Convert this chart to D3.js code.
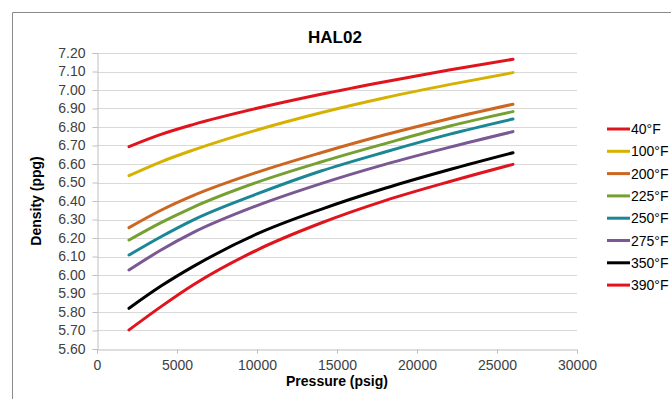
<!DOCTYPE html>
<html>
<head>
<meta charset="utf-8">
<script src="https://cdn.jsdelivr.net/npm/d3@7"></script>
<style>
  html, body { margin: 0; padding: 0; background: #fff; }
  svg { display: block; font-family: "Liberation Sans", Arial, sans-serif; }
</style>
</head>
<body>
<svg id="chart" width="671" height="399"></svg>
<script>
// Pressure readings (psig) shared by every temperature series
const pressures = [2000, 4000, 6000, 10000, 14000, 18000, 22000, 26000];

// Density (ppg) per temperature
const seriesNames = ["40°F", "100°F", "200°F", "225°F", "250°F", "275°F", "350°F", "390°F"];
const d40  = [6.694, 6.760, 6.813, 6.901, 6.977, 7.045, 7.108, 7.166];
const d100 = [6.537, 6.612, 6.675, 6.784, 6.877, 6.958, 7.029, 7.094];
const d200 = [6.256, 6.350, 6.429, 6.555, 6.661, 6.758, 6.845, 6.923];
const d225 = [6.189, 6.283, 6.366, 6.501, 6.611, 6.710, 6.804, 6.883];
const d250 = [6.108, 6.207, 6.297, 6.438, 6.562, 6.665, 6.760, 6.843];
const d275 = [6.027, 6.135, 6.229, 6.375, 6.494, 6.598, 6.690, 6.775];
const d350 = [5.820, 5.940, 6.045, 6.222, 6.355, 6.469, 6.569, 6.661];
const d390 = [5.703, 5.829, 5.946, 6.135, 6.281, 6.402, 6.504, 6.598];
const seriesValues = [d40, d100, d200, d225, d250, d275, d350, d390];
const seriesColors = ["#e0141c", "#d6b100", "#cc6620", "#76a032", "#1b8796", "#7a5893", "#000000", "#e0141c"];

// Axis ticks
const xTicks = [0, 5000, 10000, 15000, 20000, 25000, 30000];
const yTicks = d3.range(5.6, 7.2001, 0.1).map(v => +v.toFixed(2));

const svg = d3.select("#chart");

// Chart frame
svg.append("path")
  .attr("d", "M12.5,399 L12.5,12.5 L671,12.5")
  .attr("fill", "none")
  .attr("stroke", "#8a8a8a")
  .attr("stroke-width", 1);

const plot = { left: 97, right: 577, top: 53, bottom: 349 };

const x = d3.scaleLinear().domain([0, 30000]).range([plot.left, plot.right]);
const y = d3.scaleLinear().domain([5.6, 7.2]).range([plot.bottom, plot.top]);

// Horizontal gridlines
svg.append("g")
  .selectAll("line")
  .data(yTicks.slice(1))
  .join("line")
  .attr("x1", plot.left).attr("x2", plot.right)
  .attr("y1", d => Math.round(y(d)) + 0.5).attr("y2", d => Math.round(y(d)) + 0.5)
  .attr("stroke", "#d9d9d9").attr("stroke-width", 1);

// Y axis
const yAxis = svg.append("g")
  .attr("transform", `translate(${plot.left + 0.5},0)`)
  .call(d3.axisLeft(y).tickValues(yTicks).tickFormat(d3.format(".2f")).tickSize(5).tickPadding(7));
yAxis.select(".domain").attr("stroke", "#bfbfbf");
yAxis.selectAll(".tick line").attr("stroke", "#bfbfbf");
yAxis.selectAll(".tick text")
  .attr("fill", "#404040")
  .attr("font-size", 14)
  .attr("font-family", "Liberation Sans, Arial, sans-serif");

// X axis
const xAxis = svg.append("g")
  .attr("transform", `translate(0,${plot.bottom + 0.5})`)
  .call(d3.axisBottom(x).tickValues(xTicks).tickFormat(d3.format("d")).tickSize(4));
xAxis.select(".domain").attr("stroke", "#bfbfbf");
xAxis.selectAll(".tick line").attr("stroke", "#bfbfbf");
xAxis.selectAll(".tick text")
  .attr("fill", "#404040")
  .attr("font-size", 14)
  .attr("font-family", "Liberation Sans, Arial, sans-serif")
  .attr("y", 20)
  .attr("dy", null);

// Density curves
const line = d3.line()
  .x(d => x(d[0]))
  .y(d => y(d[1]))
  .curve(d3.curveMonotoneX);

seriesValues.forEach((vals, i) => {
  svg.append("path")
    .datum(pressures.map((p, j) => [p, vals[j]]))
    .attr("d", line)
    .attr("fill", "none")
    .attr("stroke", seriesColors[i])
    .attr("stroke-width", 3)
    .attr("stroke-linecap", "round")
    .attr("stroke-linejoin", "round");
});

// Title and axis titles
svg.append("text")
  .attr("x", 335).attr("y", 43)
  .attr("text-anchor", "middle")
  .attr("font-size", 17).attr("font-weight", "bold")
  .attr("fill", "#000")
  .text("HAL02");

svg.append("text")
  .attr("x", (plot.left + plot.right) / 2).attr("y", 386)
  .attr("text-anchor", "middle")
  .attr("font-size", 14).attr("font-weight", "bold")
  .attr("fill", "#000")
  .text("Pressure (psig)");

svg.append("text")
  .attr("transform", `translate(41,${(plot.top + plot.bottom) / 2}) rotate(-90)`)
  .attr("text-anchor", "middle")
  .attr("font-size", 14).attr("font-weight", "bold")
  .attr("fill", "#000")
  .text("Density (ppg)");

// Legend
const legend = svg.append("g");
seriesNames.forEach((name, i) => {
  const ly = 129 + i * 22.3;
  legend.append("line")
    .attr("x1", 607).attr("x2", 630)
    .attr("y1", ly).attr("y2", ly)
    .attr("stroke", seriesColors[i]).attr("stroke-width", 3);
  legend.append("text")
    .attr("x", 631).attr("y", ly + 5)
    .attr("font-size", 14)
    .attr("fill", "#000")
    .text(name);
});
</script>
</body>
</html>
